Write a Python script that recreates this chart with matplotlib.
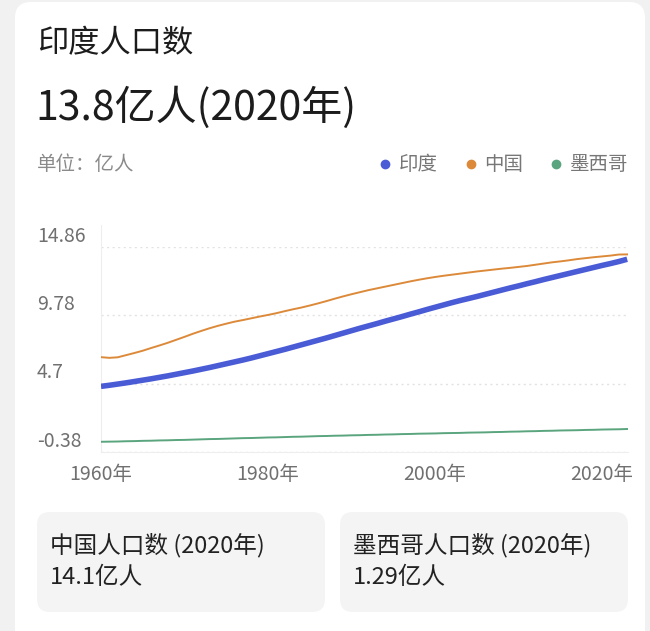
import matplotlib
matplotlib.use("Agg")
import matplotlib.pyplot as plt
from matplotlib.patches import FancyBboxPatch
from matplotlib.lines import Line2D

plt.rcParams['font.family'] = ['Noto Sans CJK SC', 'DejaVu Sans']

# ---------------- data ----------------
years = list(range(1960, 2024))
india = [4.50, 4.58, 4.67, 4.76, 4.86, 4.96, 5.06, 5.17, 5.28, 5.40,
         5.52, 5.64, 5.77, 5.90, 6.04, 6.18, 6.32, 6.46, 6.61, 6.77,
         6.93, 7.09, 7.25, 7.42, 7.59, 7.76, 7.93, 8.10, 8.28, 8.46,
         8.64, 8.82, 8.99, 9.16, 9.34, 9.51, 9.68, 9.86, 10.03, 10.21,
         10.38, 10.55, 10.72, 10.88, 11.03, 11.18, 11.34, 11.50, 11.66, 11.82,
         11.97, 12.13, 12.28, 12.44, 12.59, 12.74, 12.89, 13.04, 13.19, 13.34,
         13.49, 13.63, 13.78, 13.95]
china = [6.67, 6.62, 6.66, 6.82, 6.98, 7.15, 7.35, 7.54, 7.74, 7.96,
         8.18, 8.41, 8.62, 8.82, 9.00, 9.16, 9.31, 9.43, 9.56, 9.69,
         9.81, 9.94, 10.09, 10.23, 10.36, 10.51, 10.67, 10.84, 11.02, 11.19,
         11.35, 11.50, 11.65, 11.78, 11.91, 12.04, 12.17, 12.30, 12.42, 12.53,
         12.63, 12.72, 12.80, 12.88, 12.96, 13.04, 13.11, 13.18, 13.25, 13.31,
         13.38, 13.45, 13.54, 13.63, 13.72, 13.79, 13.87, 13.96, 14.03, 14.10,
         14.16, 14.22, 14.30, 14.31]
mexico = [0.38, 0.39, 0.40, 0.42, 0.43, 0.45, 0.46, 0.48, 0.49, 0.51,
          0.52, 0.54, 0.56, 0.58, 0.59, 0.61, 0.63, 0.65, 0.66, 0.68,
          0.70, 0.71, 0.73, 0.75, 0.76, 0.78, 0.80, 0.81, 0.83, 0.84,
          0.86, 0.87, 0.89, 0.90, 0.92, 0.93, 0.95, 0.96, 0.98, 0.99,
          1.00, 1.02, 1.03, 1.04, 1.06, 1.07, 1.08, 1.10, 1.11, 1.13,
          1.14, 1.16, 1.17, 1.19, 1.20, 1.22, 1.23, 1.24, 1.26, 1.27,
          1.29, 1.30, 1.31, 1.33]
series_names = ['印度', '中国', '墨西哥']
series_colors = ['#4a5bd6', '#dc8a3a', '#5aa57e']
y_ticks = [-0.38, 4.7, 9.78, 14.86]
y_tick_labels = ['-0.38', '4.7', '9.78', '14.86']
x_ticks = [1960, 1980, 2000, 2020]
x_tick_labels = ['1960年', '1980年', '2000年', '2020年']
title = '印度人口数'
headline = '13.8亿人(2020年)'
unit = '单位：亿人'
card_titles = ['中国人口数 (2020年)', '墨西哥人口数 (2020年)']
card_values = ['14.1亿人', '1.29亿人']

# ---------------- figure ----------------
W, H = 650, 631
fig = plt.figure(figsize=(W / 100, H / 100), dpi=100)
fig.patch.set_facecolor('#f1f1f1')

bg = fig.add_axes([0, 0, 1, 1])
bg.set_xlim(0, W)
bg.set_ylim(H, 0)
bg.axis('off')
bg.add_patch(FancyBboxPatch((15, 2), 630, 660, boxstyle='round,pad=0,rounding_size=16',
                            facecolor='white', edgecolor='none'))
for x0 in (37, 340):
    bg.add_patch(FancyBboxPatch((x0, 512), 288, 100, boxstyle='round,pad=0,rounding_size=13',
                                facecolor='#f4f4f4', edgecolor='none'))

bg.text(37, 43, title, fontsize=22.5, color='#1c1c1c', va='center', ha='left')
bg.text(35, 108, headline, fontsize=29.5, color='#1c1c1c', va='center', ha='left')
bg.text(37, 165, unit, fontsize=14, color='#8a8a8a', va='center', ha='left')
for x0, t, v in zip((50, 353), card_titles, card_values):
    bg.text(x0, 545, t, fontsize=17, color='#222222', va='center', ha='left')
    bg.text(x0, 578, v, fontsize=17, color='#222222', va='center', ha='left')

# ---------------- chart ----------------
left, right = 101 / W, 628 / W
bottom, top = 1 - 452 / H, 1 - 247 / H
ax = fig.add_axes([left, bottom, right - left, top - bottom])
ax.set_facecolor('none')
ax.plot(years, mexico, color=series_colors[2], lw=1.4, zorder=3)
ax.plot(years, china, color=series_colors[1], lw=1.4, zorder=3)
ax.plot(years, india, color=series_colors[0], lw=4.0, zorder=4, solid_capstyle='butt')

ax.set_xlim(1960, 2023.1)
ax.set_ylim(-0.38, 14.86)
for s in ('top', 'right'):
    ax.spines[s].set_visible(False)
ax.spines['left'].set_color('#eeeeee')
ax.spines['bottom'].set_color('#eeeeee')
ax.spines['left'].set_bounds(-0.38, 16.5)

ax.set_yticks(y_ticks)
ax.set_yticklabels([])
ax.tick_params(axis='y', length=0)
ax.yaxis.grid(True, color='#e2e2e2', linestyle=(0, (1.5, 2.5)), linewidth=1.0)
for v, lab in zip(y_ticks, y_tick_labels):
    ax.annotate(lab, xy=(37 / W, v), xycoords=('figure fraction', 'data'),
                xytext=(0, 7.7), textcoords='offset points',
                ha='left', va='center', fontsize=14, color='#707070',
                annotation_clip=False)

ax.set_xticks(x_ticks)
ax.set_xticklabels(x_tick_labels, fontsize=14, color='#707070')
ax.tick_params(axis='x', length=0, pad=9)

handles = [Line2D([], [], marker='o', linestyle='', markersize=6,
                  markerfacecolor=c, markeredgecolor=c) for c in series_colors]
fig.legend(handles, series_names, loc='center right',
           bbox_to_anchor=(646 / W, 1 - 165 / H), ncol=3, frameon=False,
           handletextpad=0.2, columnspacing=1.2, handlelength=1.0,
           fontsize=14, labelcolor='#777777')

fig.savefig('out.png', dpi=100, facecolor=fig.get_facecolor())
